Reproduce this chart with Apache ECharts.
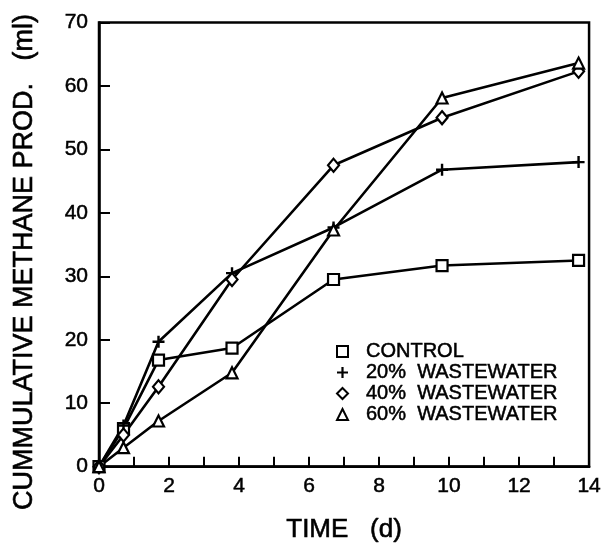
<!DOCTYPE html>
<html>
<head>
<meta charset="utf-8">
<script src="https://cdn.jsdelivr.net/npm/echarts@6/dist/echarts.min.js"></script>
<style>
  html, body { margin: 0; padding: 0; background: #fff; }
  #chart { width: 604px; height: 548px; }
</style>
</head>
<body>
<div id="chart"></div>
<script>
// Sampling days
const days = [0, 0.7, 1.7, 3.8, 6.7, 9.8, 13.7];

// Cumulative methane production (ml)
const control = [0, 6.0, 16.8, 18.7, 29.5, 31.7, 32.5];
const ww20 = [0, 6.5, 19.7, 30.5, 37.7, 46.8, 48.0];
const ww40 = [0, 5.0, 12.6, 29.5, 47.5, 55.0, 62.3];
const ww60 = [0, 3.0, 7.2, 14.8, 37.3, 58.1, 63.6];

const seriesNames = ['CONTROL', '20%  WASTEWATER', '40%  WASTEWATER', '60%  WASTEWATER'];

const FONT = '"Liberation Sans", Arial, sans-serif';
const plusPath = 'path://M4,0h2v4h4v2h-4v4h-2v-4h-4v-2h4z';
// Slight outline gives the lettering a heavier, plotter-like weight
const heavy = { textBorderColor: '#000', textBorderWidth: 0.5 };

function pairs(vals) {
  return days.map((d, i) => [d, vals[i]]);
}

function makeSeries(name, vals, symbol, size, filled) {
  return {
    name: name,
    type: 'line',
    data: pairs(vals),
    symbol: symbol,
    symbolSize: size,
    showAllSymbol: true,
    lineStyle: { color: '#000', width: 2.6 },
    itemStyle: filled
      ? { color: '#000', borderWidth: 0 }
      : { color: '#fff', borderColor: '#000', borderWidth: 2.2 },
    emphasis: { disabled: true },
    z: 3
  };
}

const chart = echarts.init(document.getElementById('chart'), null, { renderer: 'canvas' });

chart.setOption({
  animation: false,
  backgroundColor: '#fff',
  grid: {
    left: 99, right: 14, top: 22.5, bottom: 80.5,
    show: true, borderColor: '#000', borderWidth: 2.5, backgroundColor: 'transparent'
  },
  xAxis: {
    type: 'value', min: 0, max: 14, interval: 1,
    name: 'TIME   (d)',
    nameLocation: 'middle',
    nameGap: 50,
    nameTextStyle: Object.assign({ color: '#000', fontSize: 26, fontFamily: FONT }, { textBorderColor: '#000', textBorderWidth: 0.6 }),
    axisLine: { show: true, lineStyle: { color: '#000', width: 2.5 } },
    axisTick: { show: true, inside: true, length: 10, lineStyle: { color: '#000', width: 2 } },
    splitLine: { show: false },
    axisLabel: Object.assign({
      color: '#000', fontSize: 21, fontFamily: FONT, margin: 9,
      formatter: v => (v % 2 === 0 ? String(v) : '')
    }, heavy)
  },
  yAxis: {
    type: 'value', min: 0, max: 70, interval: 10,
    axisLine: { show: true, lineStyle: { color: '#000', width: 2.5 } },
    axisTick: { show: true, inside: true, length: 11, lineStyle: { color: '#000', width: 2 } },
    splitLine: { show: false },
    axisLabel: Object.assign({ color: '#000', fontSize: 21, fontFamily: FONT, margin: 11 }, heavy)
  },
  legend: {
    orient: 'vertical',
    left: 331, top: 336,
    itemWidth: 11, itemHeight: 11,
    itemGap: 0,
    selectedMode: false,
    textStyle: Object.assign({ color: '#000', fontSize: 20, fontFamily: FONT, lineHeight: 21, padding: [0, 0, 0, 13] }, heavy),
    data: [
      { name: seriesNames[0], icon: 'rect' },
      { name: seriesNames[1], icon: plusPath },
      { name: seriesNames[2], icon: 'diamond' },
      { name: seriesNames[3], icon: 'triangle' }
    ]
  },
  graphic: [
    {
      type: 'text', x: 25, y: 262, rotation: Math.PI / 2,
      style: { text: "CUMMULATIVE METHANE PROD.   (ml)", font: '27px ' + FONT, fill: '#000', align: 'center', verticalAlign: 'middle', stroke: '#000', lineWidth: 0.6 }
    }
  ],
  series: [
    makeSeries(seriesNames[0], control, 'rect', 11, false),
    makeSeries(seriesNames[1], ww20, plusPath, 12, true),
    makeSeries(seriesNames[2], ww40, 'diamond', [11, 13], false),
    makeSeries(seriesNames[3], ww60, 'triangle', 11, false)
  ]
});
</script>
</body>
</html>
